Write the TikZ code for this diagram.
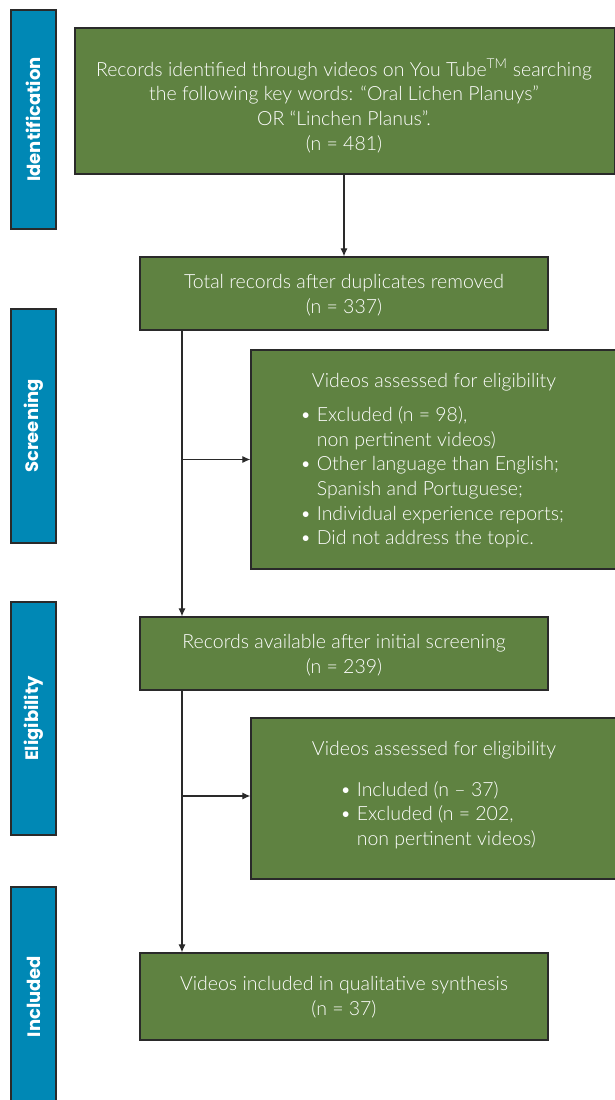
\documentclass[tikz,border=0pt]{standalone}
\usepackage{fontspec}
\setmainfont{Lato Light}
\newfontfamily\labelfont{Poppins}
\usetikzlibrary{arrows.meta,calc}
\definecolor{boxgreen}{HTML}{5F8241}
\definecolor{barblue}{HTML}{0088B5}
\definecolor{edge}{HTML}{2A2A2A}
\begin{document}
\begin{tikzpicture}[x=1pt,y=-1pt,
  box/.style={draw=edge,line width=1.3pt,fill=boxgreen,inner sep=0pt},
  plain/.style={inner sep=0pt,text=white,align=center,font=\fontsize{19.5}{24.7}\selectfont},
  bar/.style={draw=edge,line width=1.3pt,fill=barblue,inner sep=0pt},
  barlabel/.style={rotate=90,text=white,inner sep=0pt,font=\labelfont\bfseries\fontsize{18}{20}\selectfont},
  conn/.style={draw=edge,line width=1.1pt},
  arr/.style={conn,-{Latex[length=8pt,width=7pt]}}]
\useasboundingbox (0,0) rectangle (615,1100);
\fill[white] (0,0) rectangle (615,1100);
% stage bars
\node[bar,minimum width=45pt,minimum height=219pt] (bid) at (33.5,119.5) {};
\node[bar,minimum width=45pt,minimum height=234pt] (bsc) at (33.5,426) {};
\node[bar,minimum width=45pt,minimum height=233pt] (bel) at (33.5,718.5) {};
\node[bar,minimum width=45pt,minimum height=219pt] (bin) at (33.5,996.5) {};
\node[barlabel] (lid) at (bid.center) {Identification};
\node[barlabel] (lsc) at (bsc.center) {Screening};
\node[barlabel] (lel) at (bel.center) {Eligibility};
\node[barlabel] (lin) at (bin.center) {Included};
% main boxes
\node[box,minimum width=540pt,minimum height=146pt] (b1) at (345,101) {};
\node[box,minimum width=408pt,minimum height=73pt] (b2) at (344,293.5) {};
\node[box,minimum width=408pt,minimum height=73pt] (b3) at (344,653.5) {};
\node[box,minimum width=408pt,minimum height=87pt] (b4) at (344,996.5) {};
\node[plain] (b1t) at (344,106)
  {Records identified through videos on You Tube\textsuperscript{TM} searching\\
   the following key words: “Oral Lichen Planuys”\\
   OR “Linchen Planus”.\\
   (n = 481)};
\node[plain] (b2t) at (344,295.5) {Total records after duplicates removed\\(n = 337)};
\node[plain] (b3t) at (344,655.5) {Records available after initial screening\\(n = 239)};
\node[plain] (b4t) at (344,997.5) {Videos included in qualitative synthesis\\(n = 37)};
% exclusion boxes
\node[box,minimum width=366pt,minimum height=219pt] (e1) at (434,459.5) {};
\node[box,minimum width=366pt,minimum height=161pt] (e2) at (434,798.5) {};
\node[plain] (e1t) at (434,382) {Videos assessed for eligibility};
\node[plain,align=left,anchor=west] (e1l) at (300,477.5)
  {\textbullet\ Excluded (n = 98),\\
   \phantom{\textbullet\ }non pertinent videos)\\
   \textbullet\ Other language than English;\\
   \phantom{\textbullet\ }Spanish and Portuguese;\\
   \textbullet\ Individual experience reports;\\
   \textbullet\ Did not address the topic.};
\node[plain] (e2t) at (434,750) {Videos assessed for eligibility};
\node[plain,align=left,anchor=west] (e2l) at (340,815)
  {\textbullet\ Included (n – 37)\\
   \textbullet\ Excluded (n = 202,\\
   \phantom{\textbullet\ }non pertinent videos)};
% connectors
\coordinate (j1) at (182,459.5);
\coordinate (j2) at (182,796);
\draw[arr] (b1.south -| b2.north) -- (b2.north);
\draw[conn] (b2.south -| j1) -- (j1);
\draw[arr] (j1) -- (b3.north -| j1);
\draw[arr] (j1) -- (e1.west |- j1);
\draw[conn] (b3.south -| j2) -- (j2);
\draw[arr] (j2) -- (b4.north -| j2);
\draw[arr] (j2) -- (e2.west |- j2);
\end{tikzpicture}
\end{document}
